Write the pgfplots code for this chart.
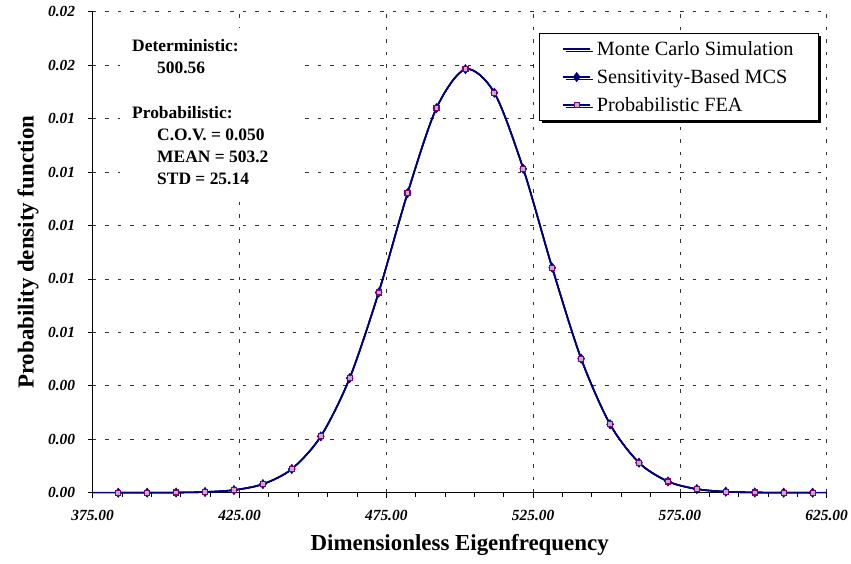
\documentclass[border=0pt]{standalone}
\usepackage{fontspec}
\setmainfont{Liberation Serif}
\usepackage{pgfplots}
\usepackage{pgfplotstable}
\pgfplotsset{compat=1.18}
\usetikzlibrary{shadows}
\definecolor{navy}{RGB}{0,0,128}
\definecolor{fea}{RGB}{128,0,128}
\definecolor{feafill}{RGB}{195,175,195}

\pgfplotstableread{
x y
375.00 0.00000004
383.70 0.000000197
393.55 0.00000117
403.41 0.00000601
413.26 0.0000264
423.12 0.0000994
432.97 0.000321
442.82 0.000887
452.68 0.002107
462.53 0.004288
472.39 0.007489
482.24 0.011210
492.09 0.014393
501.95 0.015849
511.80 0.014967
521.66 0.012119
531.51 0.008418
541.36 0.005015
551.22 0.002560
561.07 0.001122
570.93 0.000421
580.78 0.0001357
590.63 0.0000375
600.49 0.0000089
610.34 0.0000018
620.20 0.0000003
625.00 0.00000013
}\mcdata

\pgfplotstableread{
x y
383.70 0.000000197
393.55 0.00000117
403.41 0.00000601
413.26 0.0000264
423.12 0.0000994
432.97 0.000321
442.82 0.000887
452.68 0.002107
462.53 0.004288
472.39 0.007489
482.24 0.011210
492.09 0.014393
501.95 0.015849
511.80 0.014967
521.66 0.012119
531.51 0.008418
541.36 0.005015
551.22 0.002560
561.07 0.001122
570.93 0.000421
580.78 0.0001357
590.63 0.0000375
600.49 0.0000089
610.34 0.0000018
620.20 0.0000003
}\sbdata

\pgfplotstableread{
x y
383.70 0.000000197
393.55 0.00000117
403.41 0.00000601
413.26 0.0000264
423.12 0.0000994
432.97 0.000321
442.82 0.000887
452.68 0.002107
462.53 0.004288
472.39 0.007489
482.24 0.011210
492.09 0.014393
501.95 0.015849
511.80 0.014967
521.66 0.012119
531.51 0.008418
541.36 0.005015
551.22 0.002560
561.07 0.001122
570.93 0.000421
580.78 0.0001357
590.63 0.0000375
600.49 0.0000089
610.34 0.0000018
620.20 0.0000003
}\feadata

\begin{document}
\begin{tikzpicture}
\useasboundingbox (0,0) rectangle (851bp,564bp);
\begin{axis}[
  at={(92.7bp,71.3bp)}, anchor=south west,
  scale only axis, width=734bp, height=481bp,
  xmin=375, xmax=625, ymin=0, ymax=0.018,
  axis x line=bottom, axis y line=left,
  axis line style={-, line width=1.2bp, black},
  xtick={375,425,475,525,575,625}, minor x tick num=4,
  ytick={0,0.002,0.004,0.006,0.008,0.010,0.012,0.014,0.016,0.018},
  tick align=outside, major tick length=5bp, minor tick length=4bp,
  tick style={black, line width=0.8bp},
  xmajorgrids, ymajorgrids,
  major grid style={black!80, dash pattern=on 3.5bp off 9bp, line width=0.7bp},
  scaled y ticks=false, scaled x ticks=false,
  /pgf/number format/.cd, fixed, fixed zerofill, precision=2, assume math mode=true,
  /pgfplots/.cd,
  ticklabel style={font=\fontsize{15.5}{18}\selectfont\bfseries\itshape},
  yticklabel style={xshift=-9bp},
  xticklabel style={yshift=-9bp},
  xlabel={Dimensionless Eigenfrequency},
  ylabel={Probability density function},
  label style={font=\fontsize{23}{27}\selectfont\bfseries},
  xlabel style={at={(axis description cs:0.5,-0.1212)}, anchor=base},
  ylabel style={at={(axis description cs:-0.0881,0.5)}, anchor=center},
  clip=false,
  legend image code/.code={%
    \draw[#1, mark repeat=2, mark phase=2] plot coordinates {(0bp,0bp) (13.5bp,0bp) (27bp,0bp)};},
  legend cell align=left,
  legend style={at={(0.608,0.956)}, anchor=north west, draw=black, line width=0.8bp, fill=white,
    font=\fontsize{20.3}{24}\selectfont, inner xsep=23bp, inner ysep=6bp, row sep=8.5bp,
    drop shadow={shadow xshift=2.5bp, shadow yshift=-2.5bp, opacity=1, fill=black},
    nodes={inner sep=2bp},
    /tikz/every odd column/.append style={column sep=4bp}},
]
\addplot[navy, line width=1.6bp, smooth, tension=0.5] table {\mcdata};
\addlegendentry{Monte Carlo Simulation}
\addplot[navy, line width=1.6bp, smooth, tension=0.5, mark=diamond*, mark size=4.6bp,
  mark options={fill=navy, draw=navy, line width=0.6bp, solid}] table {\sbdata};
\addlegendentry{Sensitivity-Based MCS}
\addplot[navy, line width=1.6bp, smooth, tension=0.5, mark=square*, mark size=2.5bp,
  mark options={fill=feafill, draw=fea, line width=1.2bp, solid}] table {\feadata};
\addlegendentry{Probabilistic FEA}
\end{axis}
\fill[white] (120bp,364bp) rectangle (300bp,536bp);
\begin{scope}[every node/.style={anchor=base west, inner sep=0pt, font=\fontsize{17.5}{21}\selectfont\bfseries}]
\node at (132bp,512bp) {Deterministic:};
\node at (157bp,490bp) {500.56};
\node at (132bp,445bp) {Probabilistic:};
\node at (157bp,423bp) {C.O.V. = 0.050};
\node at (157bp,401bp) {MEAN = 503.2};
\node at (157bp,379bp) {STD = 25.14};
\end{scope}
\end{tikzpicture}
\end{document}
